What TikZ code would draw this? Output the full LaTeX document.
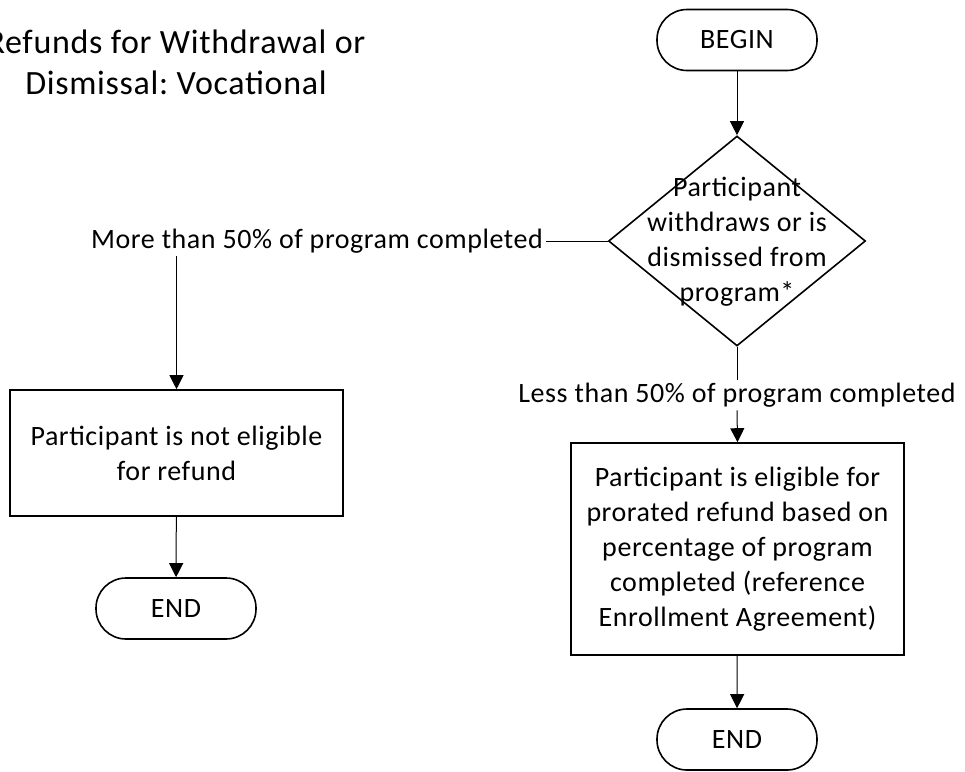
\documentclass[tikz,border=0pt]{standalone}
\usepackage{fontspec}
\setmainfont{Carlito}[LetterSpace=2]
\usetikzlibrary{shapes,arrows.meta}
\frenchspacing

\begin{document}
\begin{tikzpicture}[x=1pt,y=-1pt,
	every node/.style={font=\fontsize{28}{35}\selectfont},
	box/.style={draw,line width=1.6pt,minimum width=333pt,align=center,inner sep=0pt},
	term/.style={draw,line width=1.6pt,rounded corners=30pt,minimum width=160pt,minimum height=61pt},
	cond/.style={inner sep=3pt},
	line/.style={line width=1pt},
	arr/.style={line width=1pt,-{Triangle[width=14pt,length=14pt]}}]
			\useasboundingbox (0,0) rectangle (965,771);
			\node[font=\fontsize{34}{41}\selectfont,align=center] (title) at (176,62) {Refunds for Withdrawal or\\Dismissal: Vocational};
			\node[term] (begin) at (737,40) {BEGIN};
			\node[draw,diamond,line width=1.6pt,minimum width=257pt,minimum height=210pt,inner sep=0pt] (dec) at (737,241) {};
			\node[align=center] (dectext) at (737,242) {Participant\\withdraws or is\\dismissed from\\program*};
			\node[cond] (more) at (317,241) {More than 50\% of program completed};
			\node[box,minimum height=126pt] (noelig) at (176.5,453) {Participant is not eligible\\for refund};
			\node[term] (endleft) at (176,608.5) {END};
			\node[cond] (less) at (737,395) {Less than 50\% of program completed};
			\node[box,minimum height=212pt] (elig) at (737.5,549) {Participant is eligible for\\prorated refund based on\\percentage of program\\completed (reference\\Enrollment Agreement)};
			\node[term] (endright) at (737,739.5) {END};
			\draw[arr] (begin) -- (dec);
			\draw[line] (dec.west) -- (more.east);
			\draw[arr] (more.south -| noelig.north) -- (noelig.north);
			\draw[arr] (noelig) -- (endleft);
			\draw[line] (dec.south) -- (less.north);
			\draw[arr] (less.south) -- (elig.north);
			\draw[arr] (elig) -- (endright);
\end{tikzpicture}
\end{document}
